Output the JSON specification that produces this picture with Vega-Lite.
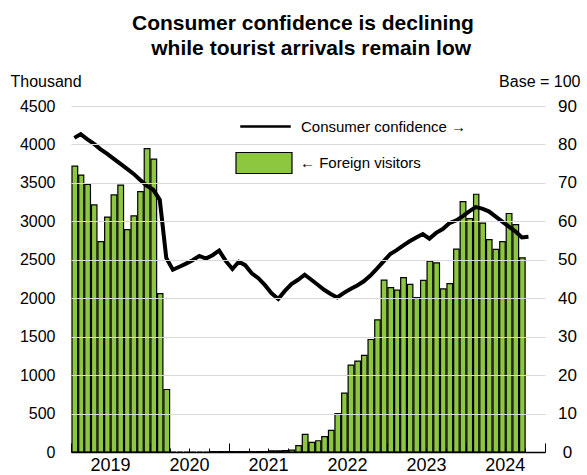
{
  "$schema": "https://vega.github.io/schema/vega-lite/v6.json",
  "width": 474,
  "height": 346,
  "autosize": {"type": "none"},
  "padding": {"left": 71, "top": 106, "right": 42, "bottom": 23},
  "background": "white",
  "config": {
    "font": "Liberation Sans",
    "view": {"stroke": null}
  },
  "title": {
    "text": ["Consumer confidence is declining", "\u200b\u2002\u00a0while tourist arrivals remain low"],
    "fontSize": 21,
    "fontWeight": "bold",
    "color": "black",
    "anchor": "middle",
    "frame": "group",
    "lineHeight": 25,
    "dx": -5,
    "offset": 14
  },
  "data": {
    "values": [
      {"month": "2019-01-01", "visitors": 3718, "cci": 81.7},
      {"month": "2019-02-01", "visitors": 3601, "cci": 82.7},
      {"month": "2019-03-01", "visitors": 3481, "cci": 81.4},
      {"month": "2019-04-01", "visitors": 3214, "cci": 80.2},
      {"month": "2019-05-01", "visitors": 2737, "cci": 78.8},
      {"month": "2019-06-01", "visitors": 3055, "cci": 77.6},
      {"month": "2019-07-01", "visitors": 3343, "cci": 76.3},
      {"month": "2019-08-01", "visitors": 3472, "cci": 75.0},
      {"month": "2019-09-01", "visitors": 2892, "cci": 73.7},
      {"month": "2019-10-01", "visitors": 3072, "cci": 72.4},
      {"month": "2019-11-01", "visitors": 3386, "cci": 70.8},
      {"month": "2019-12-01", "visitors": 3946, "cci": 69.3},
      {"month": "2020-01-01", "visitors": 3808, "cci": 68.2},
      {"month": "2020-02-01", "visitors": 2061, "cci": 65.6},
      {"month": "2020-03-01", "visitors": 813, "cci": 50.5},
      {"month": "2020-04-01", "visitors": 0, "cci": 47.4},
      {"month": "2020-05-01", "visitors": 0, "cci": 48.2},
      {"month": "2020-06-01", "visitors": 0, "cci": 49.0},
      {"month": "2020-07-01", "visitors": 0, "cci": 49.9},
      {"month": "2020-08-01", "visitors": 0, "cci": 51.0},
      {"month": "2020-09-01", "visitors": 0, "cci": 50.3},
      {"month": "2020-10-01", "visitors": 5, "cci": 51.2},
      {"month": "2020-11-01", "visitors": 5, "cci": 52.4},
      {"month": "2020-12-01", "visitors": 5, "cci": 49.7},
      {"month": "2021-01-01", "visitors": 5, "cci": 47.6},
      {"month": "2021-02-01", "visitors": 5, "cci": 49.5},
      {"month": "2021-03-01", "visitors": 5, "cci": 48.6},
      {"month": "2021-04-01", "visitors": 5, "cci": 46.5},
      {"month": "2021-05-01", "visitors": 5, "cci": 45.2},
      {"month": "2021-06-01", "visitors": 5, "cci": 43.4},
      {"month": "2021-07-01", "visitors": 15, "cci": 41.3},
      {"month": "2021-08-01", "visitors": 15, "cci": 39.8},
      {"month": "2021-09-01", "visitors": 18, "cci": 41.9},
      {"month": "2021-10-01", "visitors": 25, "cci": 43.7},
      {"month": "2021-11-01", "visitors": 83, "cci": 44.8},
      {"month": "2021-12-01", "visitors": 228, "cci": 46.1},
      {"month": "2022-01-01", "visitors": 124, "cci": 44.8},
      {"month": "2022-02-01", "visitors": 146, "cci": 43.5},
      {"month": "2022-03-01", "visitors": 200, "cci": 42.2},
      {"month": "2022-04-01", "visitors": 282, "cci": 41.1},
      {"month": "2022-05-01", "visitors": 500, "cci": 40.2},
      {"month": "2022-06-01", "visitors": 765, "cci": 41.4},
      {"month": "2022-07-01", "visitors": 1129, "cci": 42.4},
      {"month": "2022-08-01", "visitors": 1183, "cci": 43.3},
      {"month": "2022-09-01", "visitors": 1256, "cci": 44.4},
      {"month": "2022-10-01", "visitors": 1463, "cci": 45.9},
      {"month": "2022-11-01", "visitors": 1719, "cci": 47.7},
      {"month": "2022-12-01", "visitors": 2235, "cci": 49.6},
      {"month": "2023-01-01", "visitors": 2138, "cci": 51.5},
      {"month": "2023-02-01", "visitors": 2105, "cci": 52.5},
      {"month": "2023-03-01", "visitors": 2267, "cci": 53.7},
      {"month": "2023-04-01", "visitors": 2179, "cci": 54.8},
      {"month": "2023-05-01", "visitors": 2009, "cci": 55.8},
      {"month": "2023-06-01", "visitors": 2233, "cci": 56.7},
      {"month": "2023-07-01", "visitors": 2483, "cci": 55.5},
      {"month": "2023-08-01", "visitors": 2461, "cci": 57.0},
      {"month": "2023-09-01", "visitors": 2121, "cci": 58.0},
      {"month": "2023-10-01", "visitors": 2190, "cci": 59.5},
      {"month": "2023-11-01", "visitors": 2638, "cci": 60.2},
      {"month": "2023-12-01", "visitors": 3257, "cci": 61.3},
      {"month": "2024-01-01", "visitors": 3034, "cci": 62.6},
      {"month": "2024-02-01", "visitors": 3352, "cci": 63.7},
      {"month": "2024-03-01", "visitors": 2977, "cci": 63.3},
      {"month": "2024-04-01", "visitors": 2763, "cci": 62.6},
      {"month": "2024-05-01", "visitors": 2634, "cci": 61.3},
      {"month": "2024-06-01", "visitors": 2737, "cci": 60.0},
      {"month": "2024-07-01", "visitors": 3102, "cci": 58.7},
      {"month": "2024-08-01", "visitors": 2957, "cci": 57.4},
      {"month": "2024-09-01", "visitors": 2525, "cci": 55.8},
      {"month": "2024-10-01", "visitors": null, "cci": 56.0}
    ]
  },
  "layer": [
    {
      "mark": {"type": "bar", "stroke": "black", "strokeWidth": 1.2},
      "encoding": {
        "x": {
          "field": "month", "type": "temporal", "timeUnit": "utcyearmonth",
          "scale": {"domain": [{"year": 2019, "month": 1, "date": 1, "utc": true}, {"year": 2025, "month": 1, "date": 1, "utc": true}], "nice": false},
          "axis": {
            "title": null,
            "tickCount": {"interval": "month", "step": 3},
            "labelExpr": "utcmonth(datum.value) == 0 && utcyear(datum.value) < 2025 ? utcFormat(datum.value, '%Y') : ''",
            "labelOffset": 39,
            "labelFlush": false,
            "labelOverlap": false,
            "labelBound": false,
            "tickSize": {"condition": {"test": "utcmonth(datum.value) == 0", "value": -9}, "value": -4},
            "tickColor": "black",
            "tickWidth": 1,
            "domainColor": "black",
            "domainWidth": 1.5,
            "grid": false,
            "labelFontSize": 18,
            "labelColor": "black",
            "labelPadding": 13,
            "zindex": 1
          }
        },
        "y": {
          "field": "visitors", "type": "quantitative",
          "scale": {"domain": [0, 4500], "nice": false},
          "axis": {
            "title": "Thousand",
            "titleAngle": 0, "titleAlign": "left", "titleBaseline": "alphabetic",
            "titleX": -61, "titleY": -20,
            "titleFontSize": 16, "titleFontWeight": "normal", "titleColor": "black",
            "values": [0, 500, 1000, 1500, 2000, 2500, 3000, 3500, 4000, 4500],
            "format": "d",
            "domain": false, "ticks": false,
            "labelPadding": 16, "labelFontSize": 16, "labelColor": "black",
            "grid": true, "gridColor": "#d9d9d9", "gridWidth": 1,
            "gridOpacity": {"condition": {"test": "datum.value == 0", "value": 0}, "value": 1},
            "zindex": 1
          }
        },
        "fill": {
          "datum": "← Foreign visitors", "type": "nominal",
          "scale": {"range": ["#8dc63f"]},
          "legend": {
            "orient": "none", "legendX": 164, "legendY": 28, "title": null,
            "symbolType": "M-1,-0.375L1,-0.375L1,0.375L-1,0.375Z",
            "symbolSize": 3136, "symbolStrokeColor": "black", "symbolStrokeWidth": 1.2,
            "labelFontSize": 15, "labelOffset": 7, "labelColor": "black", "labelLimit": 300, "padding": 0
          }
        }
      }
    },
    {
      "mark": {"type": "line", "strokeWidth": 4},
      "encoding": {
        "x": {
          "field": "month", "type": "temporal", "timeUnit": "utcyearmonth", "bandPosition": 0.5,
          "scale": {"domain": [{"year": 2019, "month": 1, "date": 1, "utc": true}, {"year": 2025, "month": 1, "date": 1, "utc": true}], "nice": false}
        },
        "y": {
          "field": "cci", "type": "quantitative",
          "scale": {"domain": [0, 90], "nice": false},
          "axis": {
            "orient": "right",
            "title": "Base = 100",
            "titleAngle": 0, "titleAlign": "right", "titleBaseline": "alphabetic",
            "titleX": 35, "titleY": -20,
            "titleFontSize": 16, "titleFontWeight": "normal", "titleColor": "black",
            "values": [0, 10, 20, 30, 40, 50, 60, 70, 80, 90],
            "domain": false, "ticks": false, "grid": false,
            "labelAlign": "center", "labelPadding": 22, "labelFontSize": 17, "labelColor": "black"
          }
        },
        "stroke": {
          "datum": "Consumer confidence →", "type": "nominal",
          "scale": {"range": ["black"]},
          "legend": {
            "orient": "none", "legendX": 169, "legendY": -5, "title": null,
            "symbolType": "M-1,-0.04L1,-0.04L1,0.04L-1,0.04Z",
            "symbolSize": 2500, "symbolFillColor": "black", "symbolStrokeWidth": 0.5,
            "labelFontSize": 15, "labelOffset": 10, "labelColor": "black", "labelLimit": 300, "padding": 0
          }
        }
      }
    }
  ],
  "resolve": {"scale": {"y": "independent"}}
}
